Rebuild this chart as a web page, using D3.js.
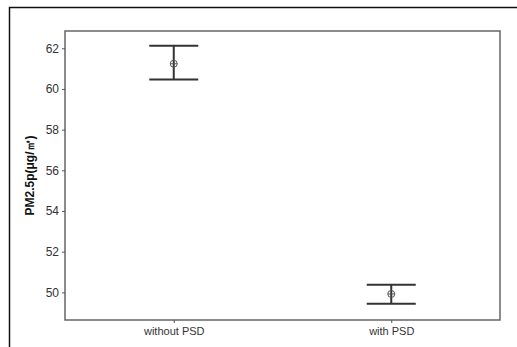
<!DOCTYPE html>
<html>
<head>
<meta charset="utf-8">
<script src="https://cdn.jsdelivr.net/npm/d3@7"></script>
<style>
  body { margin: 0; background: #fff; }
  text { font-family: Arial, "Liberation Sans", sans-serif; }
</style>
</head>
<body>
<script>
// data
const groups = ['without PSD', 'with PSD'];
const means = [61.24, 49.92];
const upper = [62.13, 50.37];
const lower = [60.46, 49.44];
const yTicks = [50, 52, 54, 56, 58, 60, 62];

const width = 517;
const height = 347;
const margin = { top: 31, right: 17, bottom: 27, left: 65 };

const svg = d3.select('body').append('svg')
    .attr('width', width)
    .attr('height', height);

// outer frame (cut off at right and bottom)
svg.append('path')
    .attr('d', 'M9.5,' + height + 'V7.5H' + width)
    .attr('fill', 'none')
    .attr('stroke', '#111')
    .attr('stroke-width', 1.5);

const x = d3.scalePoint()
    .domain(groups)
    .range([margin.left, width - margin.right])
    .padding(0.5);

const y = d3.scaleLinear()
    .domain([48.64, 62.85])
    .range([height - margin.bottom, margin.top]);

// plot box
svg.append('rect')
    .attr('x', margin.left)
    .attr('y', margin.top)
    .attr('width', width - margin.left - margin.right)
    .attr('height', height - margin.top - margin.bottom)
    .attr('fill', 'none')
    .attr('stroke', '#666')
    .attr('stroke-width', 1.5);

// y axis
const yAxis = svg.append('g')
    .attr('transform', 'translate(' + margin.left + ',0)')
    .call(d3.axisLeft(y).tickValues(yTicks).tickSize(3).tickPadding(3));
yAxis.select('.domain').remove();
yAxis.selectAll('text').attr('font-size', 12).attr('fill', '#333').attr('font-family', 'Arial, "Liberation Sans", sans-serif');
yAxis.selectAll('line').attr('stroke', '#555');

// x axis
const xAxis = svg.append('g')
    .attr('transform', 'translate(0,' + (height - margin.bottom) + ')')
    .call(d3.axisBottom(x).tickSize(3).tickPadding(4));
xAxis.select('.domain').remove();
xAxis.selectAll('text').attr('font-size', 11).attr('fill', '#333').attr('font-family', 'Arial, "Liberation Sans", sans-serif');
xAxis.selectAll('line').attr('stroke', '#555');

// y label
svg.append('text')
    .attr('transform', 'translate(34,' + (margin.top + (height - margin.top - margin.bottom) / 2) + ') rotate(-90)')
    .attr('text-anchor', 'middle')
    .attr('font-size', 12)
    .attr('font-weight', 'bold')
    .attr('fill', '#111')
    .text('PM2.5p(μg/㎥)');

// error bars
const capHalf = 24.5;
const bars = svg.selectAll('.bar')
    .data(groups)
    .enter().append('g')
    .attr('class', 'bar');

bars.append('line')
    .attr('x1', d => x(d)).attr('x2', d => x(d))
    .attr('y1', (d, i) => y(upper[i])).attr('y2', (d, i) => y(lower[i]))
    .attr('stroke', '#333').attr('stroke-width', 2);

bars.append('line')
    .attr('x1', d => x(d) - capHalf).attr('x2', d => x(d) + capHalf)
    .attr('y1', (d, i) => y(upper[i])).attr('y2', (d, i) => y(upper[i]))
    .attr('stroke', '#333').attr('stroke-width', 2);

bars.append('line')
    .attr('x1', d => x(d) - capHalf).attr('x2', d => x(d) + capHalf)
    .attr('y1', (d, i) => y(lower[i])).attr('y2', (d, i) => y(lower[i]))
    .attr('stroke', '#333').attr('stroke-width', 2);

// mean symbol: circle with cross
bars.append('circle')
    .attr('cx', d => x(d))
    .attr('cy', (d, i) => y(means[i]))
    .attr('r', 3.5)
    .attr('fill', 'none')
    .attr('stroke', '#555')
    .attr('stroke-width', 1);

bars.append('line')
    .attr('x1', d => x(d) - 3.5).attr('x2', d => x(d) + 3.5)
    .attr('y1', (d, i) => y(means[i])).attr('y2', (d, i) => y(means[i]))
    .attr('stroke', '#555').attr('stroke-width', 1);
</script>
</body>
</html>
